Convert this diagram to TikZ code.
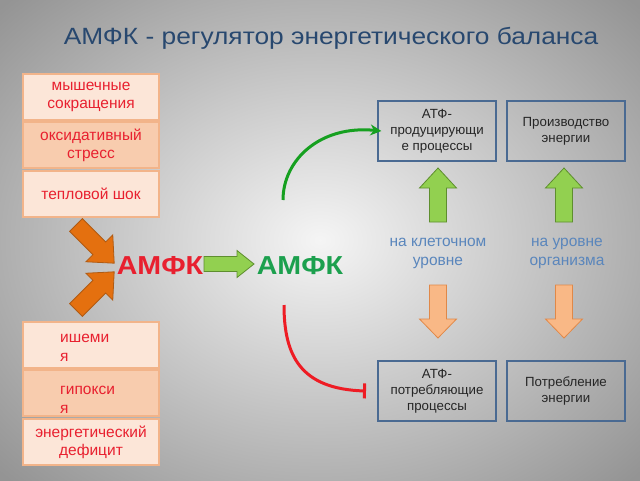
\documentclass[tikz,border=0pt]{standalone}
\usepackage{fontspec}
\setmainfont{Liberation Sans}
\usetikzlibrary{arrows.meta}
\definecolor{ttl}{HTML}{28486F}
\definecolor{redt}{HTML}{E8202F}
\definecolor{peachL}{HTML}{FCE6D8}
\definecolor{peachD}{HTML}{F8CCAE}
\definecolor{peachB}{HTML}{F2B48A}
\definecolor{orgF}{HTML}{E4700F}
\definecolor{orgB}{HTML}{B05A12}
\definecolor{grnF}{HTML}{92D050}
\definecolor{grnB}{HTML}{5E8E2E}
\definecolor{lorgF}{HTML}{F9B886}
\definecolor{lorgB}{HTML}{E08848}
\definecolor{boxB}{HTML}{4A6A92}
\definecolor{lvl}{HTML}{5A86BC}
\definecolor{amgreen}{HTML}{1CA04E}
\definecolor{arcgreen}{HTML}{16A020}
\definecolor{arcred}{HTML}{EE1C24}
\newcommand\barrow[8]{% x, y (tail centre), angle, length, shaft half, head half, head length, style
  \draw[#8, shift={(#1,#2)}, rotate=#3]
    (0,-#5) -- ({#4-#7},-#5) -- ({#4-#7},-#6) -- (#4,0) -- ({#4-#7},#6) -- ({#4-#7},#5) -- (0,#5) -- cycle;}
\tikzset{
  lbox/.style={draw=peachB, line width=1.2pt, minimum width=136pt, minimum height=46pt, inner sep=0pt, text=redt, font=\fontsize{15.5}{18}\selectfont, align=center},
  rbox/.style={draw=boxB, line width=1.3pt, minimum width=118pt, minimum height=60pt, inner sep=0pt, font=\fontsize{13.3}{16}\selectfont, align=center, text=black!85},
  lvltext/.style={text=lvl, font=\fontsize{15.5}{19}\selectfont, align=center},
  amf/.style={font=\bfseries\fontsize{26}{28}\selectfont, xscale=1.1}
}
\begin{document}
\begin{tikzpicture}[x=1pt,y=-1pt]
\useasboundingbox (0,0) rectangle (640,480);
\shade[inner color=white!96!black, outer color=black!42] (-120,-100) rectangle (760,580);
\node[text=ttl, font=\fontsize{23.5}{27}\selectfont, xscale=1.12] (title) at (331,38) {АМФК - регулятор энергетического баланса};
% left boxes
\node[lbox, fill=peachL] (b1) at (91,97) {мышечные\\сокращения};
\node[lbox, fill=peachD] (b2) at (91,145) {оксидативный\\стресс};
\node[lbox, fill=peachL] (b3) at (91,194) {тепловой шок};
\node[lbox, fill=peachL] (b4) at (91,345) {};
\node[lbox, fill=peachD] (b5) at (91,393) {};
\node[lbox, fill=peachL] (b6) at (91,442) {энергетический\\дефицит};
\node[text=redt, font=\fontsize{15.5}{19}\selectfont, anchor=north west, align=left, inner sep=0pt] (t4) at (60,334) {ишеми\\я};
\node[text=redt, font=\fontsize{15.5}{19}\selectfont, anchor=north west, align=left, inner sep=0pt] (t5) at (60,386) {гипокси\\я};
% orange arrows
\barrow{76}{225}{-45}{54}{9}{19}{21}{fill=orgF, draw=orgB, line width=0.8pt}
\barrow{76}{310}{45}{54}{9}{19}{21}{fill=orgF, draw=orgB, line width=0.8pt}
% AMPK
\node[amf, text=redt] (a1) at (160,266) {АМФК};
\node[amf, text=amgreen] (a2) at (300,266) {АМФК};
\barrow{204}{264}{0}{50}{7.5}{13.5}{17}{fill=grnF, draw=grnB, line width=0.8pt}
% right boxes
\node[rbox] (r1) at (437,131) {АТФ-\\продуцирующи\\е процессы};
\node[rbox] (r2) at (566,131) {Производство\\энергии};
\node[rbox] (r3) at (437,391) {АТФ-\\потребляющие\\процессы};
\node[rbox] (r4) at (566,391) {Потребление\\энергии};
\node[lvltext] (l1) at (438,253) {на клеточном\\уровне};
\node[lvltext] (l2) at (567,253) {на уровне\\организма};
% vertical arrows
\barrow{438}{222}{90}{54}{8.5}{18.5}{20}{fill=grnF, draw=grnB, line width=0.8pt}
\barrow{564}{222}{90}{54}{8.5}{18.5}{20}{fill=grnF, draw=grnB, line width=0.8pt}
\barrow{438}{285}{-90}{53}{8.5}{18.5}{19}{fill=lorgF, draw=lorgB, line width=0.8pt}
\barrow{564}{285}{-90}{53}{8.5}{18.5}{19}{fill=lorgF, draw=lorgB, line width=0.8pt}
% arcs
\coordinate (gs) at (283,200);
\coordinate (rs) at (284,305);
\draw[arcgreen, line width=3pt, -{Stealth[length=11pt,width=11pt]}] (gs) .. controls (283,160) and (320,125) .. ([xshift=4pt]r1.west);
\draw[arcred, line width=3pt, -{Bar[width=15pt,line width=3pt]}] (rs) .. controls (284,355) and (300,389) .. (r3.west -| 366,0);
\end{tikzpicture}
\end{document}
